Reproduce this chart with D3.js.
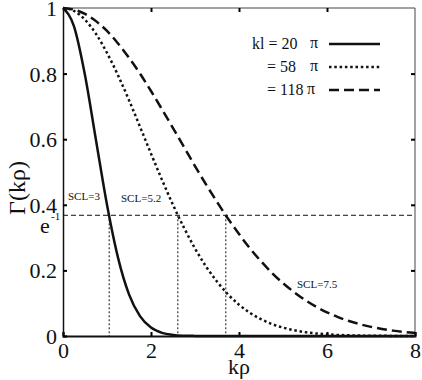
<!DOCTYPE html>
<html><head><meta charset="utf-8">
<script src="https://cdn.jsdelivr.net/npm/d3@7"></script>
<style>body{margin:0;background:#fff}svg{display:block}</style>
</head><body><svg id="c" width="422" height="380"></svg>
<script>
const xs = [0,0.25,0.5,0.75,1,1.25,1.5,1.75,2,2.25,2.5,2.75,3,3.25,3.5,3.75,4,4.25,4.5,4.75,5,5.25,5.5,5.75,6,6.25,6.5,6.75,7,7.25,7.5,7.75,8];
const kl20 = [1,0.944,0.795,0.597,0.400,0.239,0.127,0.0606,0.0257,0.0097,0.0033,0.0010,0.0003,0,0,0,0,0,0,0,0,0,0,0,0,0,0,0,0,0,0,0,0];
const kl58 = [1,0.991,0.964,0.921,0.863,0.795,0.719,0.638,0.556,0.476,0.400,0.330,0.267,0.212,0.166,0.127,0.0955,0.0705,0.0512,0.0364,0.0255,0.0175,0.0118,0.0078,0.0051,0.0032,0.0020,0.0012,0.0008,0.0005,0.0003,0.0002,0.0001];
const kl118 = [1,0.995,0.982,0.960,0.930,0.892,0.848,0.800,0.747,0.691,0.634,0.576,0.518,0.462,0.409,0.358,0.311,0.267,0.228,0.192,0.161,0.134,0.110,0.0894,0.0721,0.0576,0.0457,0.0359,0.0279,0.0215,0.0164,0.0124,0.0093];
const eInv = 0.368;
const sclX = [1.05, 2.61, 3.70];
const sclLabels = ["SCL=3","SCL=5.2","SCL=7.5"];
const legendLabels = ["kl = 20", "= 58", "= 118"];
const xTicks = [0,2,4,6,8];
const yTicks = [0,0.2,0.4,0.6,0.8,1];

const FONT = "'Liberation Serif', 'DejaVu Serif', serif";
const svg = d3.select("#c");
const m = {l:63, r:7, t:8, b:44};
const W = 422, H = 380;
const x = d3.scaleLinear().domain([0,8]).range([m.l, W-m.r]);
const y = d3.scaleLinear().domain([0,1]).range([H-m.b, m.t]);

// frame
svg.append("line").attr("x1",x(0)).attr("x2",x(8)).attr("y1",y(1)).attr("y2",y(1)).attr("stroke","#444").attr("stroke-width",1);
svg.append("line").attr("x1",x(8)).attr("x2",x(8)).attr("y1",y(1)).attr("y2",y(0)).attr("stroke","#444").attr("stroke-width",1);

const fmtY = d => d===0?"0":d===1?"1":d3.format(".1f")(d);
const styleText = g => g.selectAll("text").attr("font-size",22).attr("fill","#111").style("font-family",FONT);
svg.append("g").attr("transform",`translate(0,${y(0)})`)
  .call(d3.axisBottom(x).tickValues(xTicks).tickSize(-4).tickPadding(6).tickFormat(d3.format("d")))
  .call(g=>{g.attr("font-family",null);g.select(".domain").attr("stroke","#111").attr("stroke-width",2);g.selectAll("line").attr("stroke-width",2);styleText(g);});
svg.append("g").attr("transform",`translate(${x(0)},0)`)
  .call(d3.axisLeft(y).tickValues(yTicks).tickSize(-4).tickPadding(6).tickFormat(fmtY))
  .call(g=>{g.attr("font-family",null);g.select(".domain").attr("stroke","#111").attr("stroke-width",1.5);g.selectAll("line").attr("stroke-width",2);styleText(g);g.selectAll("text").attr("dy","0.34em");});
svg.append("g").attr("transform",`translate(0,${y(1)})`)
  .call(d3.axisTop(x).tickValues(xTicks.slice(1,-1)).tickSize(-4).tickFormat(""))
  .call(g=>{g.select(".domain").remove();g.selectAll("line").attr("stroke-width",2);});
svg.append("g").attr("transform",`translate(${x(8)},0)`)
  .call(d3.axisRight(y).tickValues(yTicks.slice(1,-1)).tickSize(-4).tickFormat(""))
  .call(g=>{g.select(".domain").remove();g.selectAll("line").attr("stroke-width",2);});

// e^-1 reference
svg.append("line").attr("x1",x(0)).attr("x2",x(8)).attr("y1",y(eInv)).attr("y2",y(eInv))
  .attr("stroke","#111").attr("stroke-width",1).attr("stroke-dasharray","5,3");
svg.selectAll(".vl").data(sclX).join("line")
  .attr("x1",d=>x(d)).attr("x2",d=>x(d)).attr("y1",y(eInv)).attr("y2",y(0))
  .attr("stroke","#111").attr("stroke-width",1).attr("stroke-dasharray","2,2");

// curves
const series = [kl20, kl58, kl118];
const dashes = [null, "2.5,2.8", "10,5"];
const line = d3.line().x((d,i)=>x(xs[i])).y(d=>y(d)).curve(d3.curveMonotoneX);
series.forEach((s,k)=>{
  svg.append("path").attr("d",line(s)).attr("fill","none").attr("stroke","#111")
    .attr("stroke-width",2.5).attr("stroke-dasharray",dashes[k]);
});

const T = (xx,yy,size,str) => svg.append("text").attr("x",xx).attr("y",yy).attr("font-size",size).attr("fill","#111").style("font-family",FONT).text(str);

// labels
T(40,233,22,"e");
T(51,220,11,"-1");
const sclPos = [[68,200],[121,202],[297,288]];
sclLabels.forEach((t,i)=>T(sclPos[i][0],sclPos[i][1],11,t));

T(x(4),374,22,"kρ").attr("text-anchor","middle");
svg.append("text").attr("transform","translate(25,188) rotate(-90)").attr("text-anchor","middle").attr("font-size",24).attr("fill","#111").style("font-family",FONT).text("Γ(kρ)");

// legend
const legY = [44, 67, 90];
const legX = [252, 267, 267];
legendLabels.forEach((t,i)=>{
  T(legX[i],legY[i]+5,16,t);
  T(i===2?307:310,legY[i]+4,16,"π");
  svg.append("line").attr("x1",329).attr("x2",380).attr("y1",legY[i]).attr("y2",legY[i])
    .attr("stroke","#111").attr("stroke-width",2.5).attr("stroke-dasharray",dashes[i]);
});
</script></body></html>
